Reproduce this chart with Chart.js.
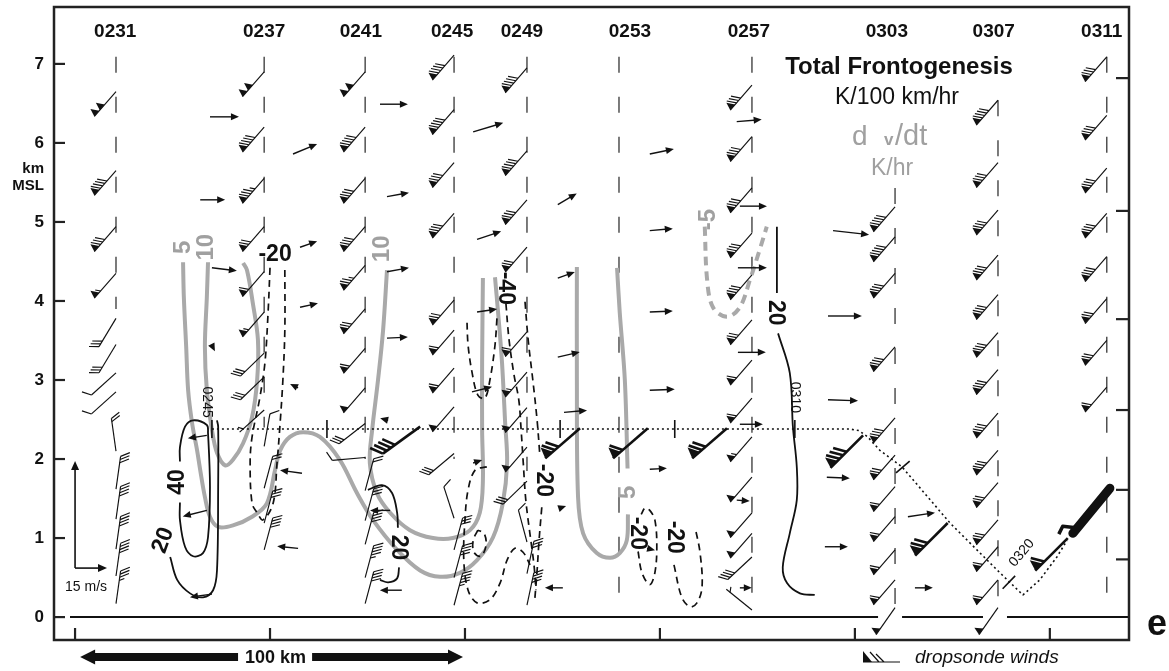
<!DOCTYPE html>
<html><head><meta charset="utf-8">
<script src="https://cdn.jsdelivr.net/npm/chart.js@4.4.1/dist/chart.umd.min.js"></script>
<style>html,body{margin:0;padding:0;background:#fff;overflow:hidden}canvas{display:block}</style>
</head><body>
<canvas id="c" width="1169" height="671"></canvas>
<script>
// ---------- DATA (km along section, km MSL) ----------
const sondeTimes   = ["0231","0237","0241","0245","0249","0253","0257","0303","0307","0311"];
const sondeX       = [10.5,48.5,74.4,97.2,115.9,139.5,173.6,210.3,236.7,264.6];
const sondeLabelX  = [10.3,48.5,73.3,96.7,114.6,142.3,172.8,208.2,235.6,263.3];
const sondeTop     = [7.09,7.09,7.09,7.09,7.09,7.09,7.09,5.43,6.54,7.09];
const sondeBottom  = [3.9,2.4,2.0,2.0,1.85,0.25,0.05,0,0,0];
const sondeLabelH  = 7.41;

const yTicks = [0,1,2,3,4,5,6,7];
const xTicks = [0,50,100,150,200,250];
const rightTicks = [6.82,5.14,3.77,2.62,1.61,0.73];

// sonde winds: [height km, direction deg, speed kt]
const winds0231 = [[6.65,221,100],[5.65,221,90],[4.94,221,80],[4.35,221,55],[3.78,211,30],[3.45,211,30],[3.09,228,10],[2.85,228,10],[2.1,352,20],[1.62,8,30],[1.24,8,40],[0.86,8,40],[0.52,8,40],[0.17,8,35]];
const winds0237 = [[6.9,221,100],[6.2,221,90],[5.55,221,85],[4.94,221,70],[4.37,221,60],[3.86,221,55],[3.34,226,30],[3.04,226,30],[2.62,228,5],[2.16,10,10],[1.63,15,20],[1.19,15,30],[0.85,15,40]];
const winds0241 = [[6.9,221,100],[6.2,221,90],[5.55,221,80],[4.94,221,80],[4.45,221,75],[3.9,221,70],[3.4,221,60],[2.9,221,50],[2.45,232,30],[2.02,265,10],[1.6,15,20],[1.22,15,30],[0.92,15,40],[0.5,15,45],[0.17,15,40]];
const winds0245 = [[7.11,221,90],[6.42,221,90],[5.75,221,80],[5.11,221,80],[4.01,221,70],[3.63,221,60],[3.15,221,60],[2.66,221,50],[2.07,230,30],[1.25,342,10],[0.85,15,30],[0.5,15,40],[0.15,15,45]];
const winds0249 = [[6.95,221,90],[5.9,221,90],[5.28,221,80],[4.68,221,70],[3.61,221,60],[3.1,221,55],[2.65,221,50],[2.15,221,50],[1.72,226,30],[0.95,345,10],[0.55,12,30],[0.15,12,40]];
const winds0253 = [];
const winds0257 = [[6.73,221,80],[6.08,221,80],[5.43,221,80],[4.86,221,80],[4.33,221,80],[3.76,221,70],[3.25,221,60],[2.77,221,60],[2.28,221,55],[1.77,221,50],[1.32,221,50],[1.06,221,50],[0.76,227,40],[0.09,309,5]];
const winds0303 = [[5.19,221,90],[4.81,221,90],[4.35,221,80],[3.42,221,80],[2.52,221,80],[2.05,221,70],[1.65,221,60],[1.27,221,60],[0.85,221,60],[0.47,221,60],[0.12,215,50]];
const winds0307 = [[6.54,221,90],[5.75,221,80],[5.15,221,80],[4.58,221,80],[4.08,221,80],[3.6,221,80],[3.13,221,80],[2.58,221,80],[2.11,221,80],[1.7,221,70],[1.23,221,70],[0.89,221,60],[0.47,221,60],[0.12,215,50]];
const winds0311 = [[7.09,221,80],[6.35,221,80],[5.68,221,80],[5.11,221,80],[4.56,221,80],[4.03,221,70],[3.5,221,70],[2.91,221,60]];
const sondeWinds = [winds0231,winds0237,winds0241,winds0245,winds0249,winds0253,winds0257,winds0303,winds0307,winds0311];

// dropsonde winds at flight level
const dropX   = [88.5,129.5,146.9,167.2,202.1,223.8,254.6];
const dropH   = [2.41,2.39,2.39,2.39,2.30,1.19,1.00];
const dropDir = [234,229,229,229,225,225,225];
const dropSpd = [40,70,60,70,80,70,60];

// storm-relative vectors: position (km, km), u (m/s), w (scaled)
const arrX = [34.6,55.9,32.1,57.7,35.1,57.7,78.2,102.1,80.0,103.1,80.0,123.8,147.4,147.4,123.8,147.4,169.7,170.5,170.0,194.4,193.1,123.8,147.4,170.0,125.4,170.5,147.4,169.7,170.5,125.1,193.1,192.8,213.6,192.3,215.4,35.1,57.2,33.8,58.2,33.8,57.2,35.1,80.3,80.8,83.8,80.0,103.1,101.8,102.1,124.4,146.7];
const arrH = [6.33,5.86,5.28,4.68,4.42,3.92,6.49,6.14,5.32,4.78,4.37,5.22,5.86,4.89,4.29,3.86,6.27,5.20,4.42,4.89,3.81,3.29,2.87,3.35,2.59,2.44,1.87,1.48,0.37,0.37,2.75,1.77,1.27,0.89,0.37,3.44,2.90,2.30,1.82,1.35,0.87,0.29,2.49,1.35,0.34,3.53,3.86,2.85,1.95,1.38,0.87];
const arrU = [13.6,11.3,11.7,8.0,11.7,8.4,13.1,14.1,10.3,11.3,10.3,8.9,11.3,10.8,8.0,10.8,11.7,12.7,13.6,16.9,15.9,10.3,11.7,13.1,10.8,10.8,8.0,6.1,5.6,-8.4,14.1,10.8,12.7,10.8,8.4,1.4,-3.75,-8.9,-10.3,-11.3,-9.8,-10.3,-3.75,-9.4,-10.3,9.8,9.4,9.4,4.2,2.8,3.75];
const arrW = [0,1.4,0,0.84,-0.42,0.56,0,1.26,0.56,1.12,0.56,1.54,0.70,0.28,0.84,0.14,0.28,0,0,-0.56,0,0.70,0.14,0,0.28,0,0.14,-0.14,0,0,-0.14,-0.14,0.56,0,0,-0.84,0.56,-0.42,0.42,-0.84,0.28,-0.42,0.28,0,0,0.14,0.42,0.70,0.42,0.28,-0.28];
const vecScaleRef = [0.0,0.62,15]; // reference vector origin and magnitude

// d(theta_v)/dt contours (grey, K/hr)
const grey5a = [[27.7,4.49],[27.9,4.05],[28.5,3.42],[29.0,2.87],[30.0,2.46],[31.3,2.11],[32.1,1.86],[33.3,1.52],[34.6,1.27],[36.7,1.14],[40.5,1.16],[45.4,1.27],[49.2,1.44],[51.3,1.86],[52.6,2.11],[55.1,2.28],[58.5,2.34],[62.8,2.28],[67.9,1.99],[72.3,1.57],[76.4,1.23],[82.6,0.85],[88.5,0.59],[93.6,0.51],[98.7,0.56],[103.1,0.72],[107.2,1.01],[109.7,1.44],[110.8,1.95],[110.3,2.46],[109.5,3.22],[108.5,3.85],[107.7,4.30]];
const grey10a = [[34.1,4.49],[33.8,4.05],[33.3,3.42],[33.8,2.87],[35.1,2.37],[36.4,2.08],[38.5,1.92],[40.5,1.99],[43.1,2.20],[45.4,2.53],[46.7,3.00],[46.9,3.51],[45.6,3.97],[44.1,4.39],[43.1,4.48]];
const grey10b = [[80.0,4.39],[79.0,3.63],[77.7,3.00],[76.2,2.37],[75.6,1.95],[77.4,1.57],[80.8,1.32],[85.9,1.10],[91.8,1.00],[96.9,1.00],[101.3,1.10],[103.8,1.32],[104.6,1.73],[104.4,2.37],[104.4,3.22],[104.6,4.29]];
const grey5b1 = [[128.7,4.43],[128.7,3.0],[129.0,1.52],[130.3,1.06],[133.8,0.81],[137.2,0.75],[139.7,0.81],[141.5,0.97],[141.8,1.30]];
const grey5b2 = [[141.7,1.88],[141.0,3.0],[139.7,3.85],[139.0,4.42]];
const greyNeg5 = [[161.5,4.94],[162.1,4.27],[163.6,3.92],[167.2,3.80],[170.5,3.92],[173.1,4.27],[175.6,4.65],[177.4,4.94]];
const greyLabels = [["5",27.7,4.68,-90],["10",33.8,4.68,-90],["10",78.7,4.66,-90],["5",141.8,1.58,-90],["-5",162.3,5.03,-90]];

// total frontogenesis contours (black, K/100 km/hr)
const pos40a  = [[26.9,1.45],[26.9,1.23],[28.2,0.89],[30.3,0.77],[32.8,0.81],[34.1,1.01],[34.6,1.65],[34.1,2.33],[33.8,2.43],[30.3,2.49],[28.2,2.41],[26.9,2.15],[26.9,1.97]];
const pos20a  = [[24.4,0.76],[26.2,0.47],[29.5,0.30],[32.8,0.25],[35.4,0.34],[36.4,0.59],[36.7,1.65],[36.7,2.41],[36.4,2.49]];
const pos20b1 = [[75.1,1.61],[78.7,1.67],[81.3,1.57],[82.6,1.32],[82.8,1.13]];
const pos20b2 = [[83.1,0.63],[82.6,0.49],[80.3,0.44],[78.2,0.47]];
const pos20c1 = [[180.0,4.94],[180.0,4.10]];
const pos20c2 = [[180.3,3.59],[183.3,3.09],[184.1,2.41],[185.1,1.90],[185.1,1.48],[183.3,1.06],[181.5,0.63],[182.6,0.43],[185.9,0.30],[189.7,0.28]];
const neg20a  = [[50.0,4.42],[49.5,3.85],[48.7,3.22],[47.4,2.78],[45.4,2.28],[44.9,1.95],[45.4,1.44],[46.7,1.32],[48.2,1.23],[50.8,1.44],[51.8,1.95],[52.6,2.46],[53.3,3.00],[53.8,3.63],[53.8,4.42]];
const neg40a  = [[110.5,3.97],[111.3,3.51],[112.6,3.06],[113.8,2.75],[114.4,2.37],[114.9,1.99],[115.6,1.48],[116.7,1.04],[117.7,0.66],[118.2,0.34]];
const neg20b1 = [[115.4,3.99],[116.2,3.51],[117.4,3.00],[118.5,2.49],[119.2,2.05]];
const neg20b2 = [[119.7,1.39],[119.0,0.97],[118.5,0.59],[117.9,0.22]];
const negLoopA = [[108.2,3.78],[107.7,3.44],[106.4,3.00],[105.1,2.77],[103.3,2.81],[101.8,3.10],[100.8,3.44],[100.5,3.76]];
const negLoopB = [[105.6,1.90],[102.6,1.86],[100.8,1.61],[100.0,1.23],[99.7,0.72],[100.8,0.34],[103.1,0.18],[106.4,0.22],[109.0,0.43],[110.8,0.72],[112.8,0.87],[114.9,0.82],[116.7,0.66]];
const negLoopC = [[103.3,1.10],[102.1,0.97],[102.3,0.82],[104.1,0.77],[105.4,0.91],[104.9,1.06],[103.3,1.10]];
const negLoopD = [[144.4,0.83],[145.4,0.56],[147.4,0.41],[148.7,0.56],[149.2,0.89],[148.7,1.23],[147.4,1.35],[146.2,1.38],[145.2,1.30]];
const negLoopE = [[153.6,0.66],[155.6,0.25],[157.7,0.13],[159.5,0.18],[160.8,0.38],[160.3,0.81],[159.0,1.14]];
const blackLabels = [["40",26.4,1.71,-90],["20",22.6,0.97,-70],["20",82.8,0.88,90],["20",179.7,3.85,90],["-20",51.3,4.59,0],["-40",110.3,4.16,90],["-20",120.0,1.73,90],["-20",144.1,1.06,90],["-20",153.8,1.01,90]];

// aircraft track
const track = [[35.1,2.38],[198.7,2.38],[201.0,2.36],[203.3,2.28],[206.4,2.11],[212.1,1.90],[224.4,1.19],[231.3,0.85],[237.2,0.56],[243.1,0.28],[247.4,0.47],[251.8,0.76],[254.4,0.97]];
const trackMarks = [[35.1,2.38],[64.6,2.38],[124.4,2.38],[153.8,2.38],[184.6,2.38],[212.3,1.90],[239.5,0.44]];
const trackLabels = [["0245",33.8,2.72,90],["0310",184.6,2.78,90],["0320",242.8,0.81,-50]];
const blobMain = [[255.9,1.06],[265.4,1.63]];
const blobHook = [[252.3,1.05],[253.3,1.15],[256.7,1.13]];

// ---------- CHART ----------
const GREY = '#a9a9a9', BLACK = '#111';
const FONT = '"Liberation Sans", Arial, Helvetica, sans-serif';
function ds(arr, color, width, dash, tension) {
  return { data: arr.map(p => ({x:p[0], y:p[1]})), showLine:true, borderColor:color, borderWidth:width,
    borderDash:dash||[], tension:(tension===undefined?0.35:tension), pointRadius:0, pointHoverRadius:0,
    fill:false, borderCapStyle:'butt', borderJoinStyle:'round' };
}
const datasets = [];
const blobDs = ds(blobMain, BLACK, 9, [], 0); blobDs.borderCapStyle='round'; datasets.push(blobDs);
datasets.push(ds(blobHook, BLACK, 3.5, [], 0));
datasets.push(ds(track, BLACK, 1.6, [2,3], 0));
[pos40a,pos20a,pos20b1,pos20b2,pos20c1,pos20c2].forEach(a => datasets.push(ds(a, BLACK, 1.8)));
[neg20a,neg40a,neg20b1,neg20b2,negLoopA,negLoopB,negLoopC,negLoopD,negLoopE].forEach(a => datasets.push(ds(a, BLACK, 1.7, [7,5])));
[grey5a,grey10a,grey10b,grey5b1,grey5b2].forEach(a => datasets.push(ds(a, GREY, 4)));
datasets.push(ds(greyNeg5, GREY, 4, [9,6]));
sondeX.forEach((x,i) => datasets.push(ds([[x,sondeTop[i]],[x,sondeBottom[i]]], '#444', 1.4, [16,24], 0)));

function drawBarb(c, X0, Y0, dir, spd, o) {
  const r = dir*Math.PI/180, tx = Math.sin(r), ty = -Math.cos(r);
  const fa = o.fang*Math.PI/180;
  const fx = tx*Math.cos(fa) - ty*Math.sin(fa), fy = tx*Math.sin(fa) + ty*Math.cos(fa);
  const ex = X0 + tx*o.len, ey = Y0 + ty*o.len;
  c.lineWidth = o.lw; c.lineCap = 'butt';
  c.beginPath(); c.moveTo(X0,Y0); c.lineTo(ex,ey); c.stroke();
  let s = Math.round(spd/5)*5;
  const nF = Math.floor(s/50); s -= nF*50;
  const nB = Math.floor(s/10); s -= nB*10;
  const nH = s >= 5 ? 1 : 0;
  let pos = 0;
  for (let i=0;i<nF;i++) {
    const ax=ex-tx*pos, ay=ey-ty*pos, bx=ex-tx*(pos+o.fw), by=ey-ty*(pos+o.fw);
    c.beginPath(); c.moveTo(ax,ay); c.lineTo(bx,by); c.lineTo(bx+fx*o.fh, by+fy*o.fh); c.closePath(); c.fill();
    pos += o.fw + 0.8;
  }
  if (nF) pos += o.sp*0.4;
  if (!nF && !nB && nH) pos = o.sp*1.5;
  for (let i=0;i<nB+nH;i++) {
    const L = i<nB ? o.flen : o.flen*0.55;
    const bx=ex-tx*pos, by=ey-ty*pos;
    c.beginPath(); c.moveTo(bx,by); c.lineTo(bx+fx*L, by+fy*L); c.stroke();
    pos += o.sp;
  }
}
function drawArrow(c, x1,y1,x2,y2, hl, hw, lw) {
  const dx=x2-x1, dy=y2-y1, L=Math.hypot(dx,dy)||1, ux=dx/L, uy=dy/L;
  c.lineWidth=lw; c.beginPath(); c.moveTo(x1,y1); c.lineTo(x2-ux*hl*0.6,y2-uy*hl*0.6); c.stroke();
  c.beginPath(); c.moveTo(x2,y2); c.lineTo(x2-ux*hl-uy*hw, y2-uy*hl+ux*hw); c.lineTo(x2-ux*hl+uy*hw, y2-uy*hl-ux*hw); c.closePath(); c.fill();
}
function txt(c, s, x, y, font, color, rot, align, base) {
  c.save(); c.translate(x,y); if (rot) c.rotate(rot*Math.PI/180);
  c.font=font; c.fillStyle=color; c.textAlign=align||'center'; c.textBaseline=base||'middle';
  c.fillText(s,0,0); c.restore();
}

const overlay = {
  id:'overlay',
  afterDatasetsDraw(chart) {
    const c = chart.ctx, xs = chart.scales.x, ys = chart.scales.y, a = chart.chartArea;
    const X = v => xs.getPixelForValue(v), Y = v => ys.getPixelForValue(v);
    c.save();
    c.strokeStyle = BLACK; c.fillStyle = BLACK;
    // ground line with gaps at 0303 / 0307
    const y0 = Y(0);
    const g1 = X(sondeX[7]), g2 = X(sondeX[8]);
    c.lineWidth = 2; c.beginPath();
    c.moveTo(a.left+16, y0); c.lineTo(g1-17, y0);
    c.moveTo(g1+7, y0); c.lineTo(g2-15, y0);
    c.moveTo(g2+9, y0); c.lineTo(a.right, y0); c.stroke();
    // track time marks
    c.lineWidth = 1.6;
    trackMarks.forEach(m => {
      let k = 0; for (let i=0;i<track.length-1;i++) if (m[0] >= track[i][0] && m[0] <= track[i+1][0]) { k=i; break; }
      const dx = X(track[k+1][0])-X(track[k][0]), dy = Y(track[k+1][1])-Y(track[k][1]);
      const L = Math.hypot(dx,dy), nx = -dy/L, ny = dx/L;
      const px = X(m[0]), py = Y(m[1]);
      c.beginPath(); c.moveTo(px-nx*9, py-ny*9); c.lineTo(px+nx*9, py+ny*9); c.stroke();
    });
    trackLabels.forEach(l => txt(c, l[0], X(l[1]), Y(l[2]), '14px '+FONT, BLACK, l[3]));
    // sonde barbs
    const so = {len:33, fang:60, flen:10, fh:9, fw:7.5, sp:3.2, lw:1.15};
    sondeWinds.forEach((arr,i) => arr.forEach(w => drawBarb(c, X(sondeX[i]), Y(w[0]), w[1], w[2], so)));
    // dropsonde barbs
    const dso = {len:46, fang:60, flen:14, fh:13, fw:10, sp:5, lw:2.6};
    dropX.forEach((x,i) => drawBarb(c, X(x), Y(dropH[i]), dropDir[i], dropSpd[i], dso));
    // vectors
    const kU = 8.2/15, kW = 1.355/15;
    arrX.forEach((x,i) => {
      const h = arrH[i];
      drawArrow(c, X(x), Y(h), X(x + arrU[i]*kU), Y(h + arrW[i]*kW), 8, 3.5, 1.4);
    });
    // reference vectors
    const rx = X(vecScaleRef[0]), ry = Y(vecScaleRef[1]);
    drawArrow(c, rx, ry, X(vecScaleRef[0] + vecScaleRef[2]*kU), ry, 9, 4, 1.6);
    drawArrow(c, rx, ry, rx, Y(vecScaleRef[1] + vecScaleRef[2]*kW), 9, 4, 1.6);
    txt(c, '15 m/s', rx+11, ry+19, '14px '+FONT, BLACK, 0);
    // contour labels
    greyLabels.forEach(l => txt(c, l[0], X(l[1]), Y(l[2]), 'bold 24px '+FONT, '#a0a0a0', l[3]));
    blackLabels.forEach(l => txt(c, l[0], X(l[1]), Y(l[2]), 'bold 23px '+FONT, BLACK, l[3]));
    // sonde labels
    sondeTimes.forEach((t,i) => txt(c, t, X(sondeLabelX[i]), Y(sondeLabelH), 'bold 19px '+FONT, BLACK, 0));
    // frame
    c.lineWidth = 2.5; c.strokeStyle = '#222';
    c.strokeRect(a.left, a.top, a.right-a.left, a.bottom-a.top);
    c.lineWidth = 2.2;
    yTicks.forEach(v => { const y=Y(v); c.beginPath(); c.moveTo(a.left,y); c.lineTo(a.left+11,y); c.stroke();
      txt(c, String(v), a.left-10, y, 'bold 17px '+FONT, BLACK, 0, 'right'); });
    xTicks.forEach(v => { const x=X(v); c.beginPath(); c.moveTo(x,a.bottom); c.lineTo(x,a.bottom-12); c.stroke(); });
    rightTicks.forEach(v => { const y=Y(v); c.beginPath(); c.moveTo(a.right,y); c.lineTo(a.right-13,y); c.stroke(); });
    txt(c, 'km', a.left-10, Y(5.67), 'bold 15px '+FONT, BLACK, 0, 'right');
    txt(c, 'MSL', a.left-10, Y(5.46), 'bold 15px '+FONT, BLACK, 0, 'right');
    // legend text block
    txt(c, 'Total Frontogenesis', 899, 67, 'bold 24px '+FONT, BLACK, 0);
    txt(c, 'K/100 km/hr', 897, 98, '23px '+FONT, BLACK, 0);
    txt(c, 'd', 852, 145, '28px '+FONT, '#a0a0a0', 0, 'left', 'alphabetic');
    txt(c, 'v', 884, 145, 'bold 17px '+FONT, '#a0a0a0', 0, 'left', 'alphabetic');
    txt(c, '/dt', 895, 145, '29px '+FONT, '#a0a0a0', 0, 'left', 'alphabetic');
    txt(c, 'K/hr', 892, 169, '23px '+FONT, '#a0a0a0', 0);
    // 100 km arrow
    const ay = a.bottom + 17, lx = X(1.3), rxx = X(99.5), mid = (lx+rxx)/2 + 4;
    c.font = 'bold 18px '+FONT; const tw = c.measureText('100 km').width;
    c.fillStyle = BLACK;
    c.fillRect(lx+13, ay-4, (mid - tw/2 - 7) - (lx+13), 8);
    c.fillRect(mid + tw/2 + 6, ay-4, (rxx-13) - (mid + tw/2 + 6), 8);
    c.beginPath(); c.moveTo(lx, ay); c.lineTo(lx+15, ay-7.5); c.lineTo(lx+15, ay+7.5); c.closePath(); c.fill();
    c.beginPath(); c.moveTo(rxx, ay); c.lineTo(rxx-15, ay-7.5); c.lineTo(rxx-15, ay+7.5); c.closePath(); c.fill();
    txt(c, '100 km', mid, ay+1, 'bold 18px '+FONT, BLACK, 0);
    // dropsonde legend
    c.lineWidth = 1.2; c.strokeStyle = BLACK;
    c.beginPath(); c.moveTo(863, 662); c.lineTo(872, 662); c.lineTo(863, 651); c.closePath(); c.fill();
    c.beginPath(); c.moveTo(863,662); c.lineTo(900,662);
    c.moveTo(870,652); c.lineTo(879,662); c.moveTo(876,654); c.lineTo(884,662); c.stroke();
    txt(c, 'dropsonde winds', 915, 658, 'italic 19px '+FONT, BLACK, 0, 'left');
    // panel letter
    txt(c, 'e', 1157, 625, 'bold 36px '+FONT, BLACK, 0);
    c.restore();
  }
};

new Chart(document.getElementById('c'), {
  type: 'scatter',
  data: { datasets },
  options: {
    responsive: false, animation: false, devicePixelRatio: 1,
    layout: { padding: { left: 54, top: 7, right: 40, bottom: 31 } },
    scales: {
      x: { type: 'linear', min: -5.4, max: 270.3, display: false },
      y: { type: 'linear', min: -0.29, max: 7.72, display: false }
    },
    plugins: { legend: { display: false }, tooltip: { enabled: false } },
    events: []
  },
  plugins: [overlay]
});
</script>
</body></html>
